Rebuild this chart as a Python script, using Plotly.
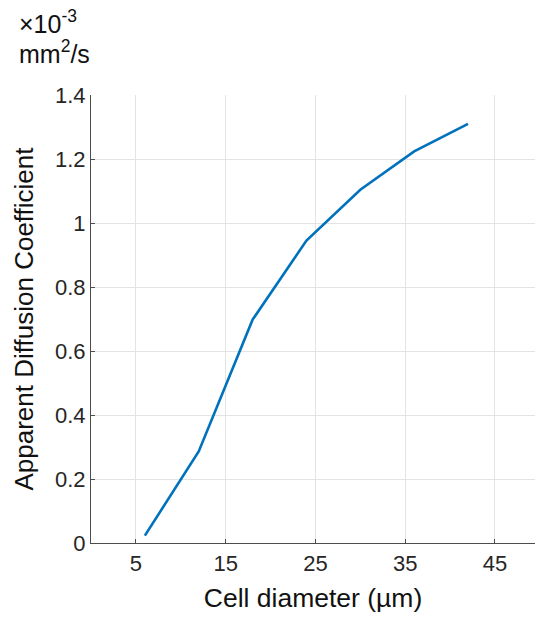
import plotly.graph_objects as go

cell_diameter = [6, 12, 18, 24, 30, 36, 42]
adc_values = [0.023, 0.286, 0.698, 0.945, 1.104, 1.224, 1.310]
x_ticks = [5, 15, 25, 35, 45]
y_ticks = [0, 0.2, 0.4, 0.6, 0.8, 1.0, 1.2, 1.4]
y_tick_text = ["0", "0.2", "0.4", "0.6", "0.8", "1", "1.2", "1.4"]

FONT = "Liberation Sans, Arial, Helvetica, sans-serif"

fig = go.Figure()
fig.add_trace(go.Scatter(
    x=cell_diameter, y=adc_values, mode="lines",
    line=dict(color="#0072BD", width=2.6),
    hoverinfo="skip", showlegend=False,
))

W, H = 535, 618
ml = 90.7
mt = 95.3
mb = H - 543.3
pw = W - ml
ph = H - mt - mb


def py(page_y):
    return (543.3 - page_y) / ph


def px(page_x):
    return (page_x - ml) / pw


fig.update_layout(
    width=W, height=H,
    margin=dict(l=ml, r=0, t=mt, b=mb, pad=0),
    paper_bgcolor="white", plot_bgcolor="white",
    font=dict(family=FONT, color="#262626"),
    showlegend=False,
)
fig.update_xaxes(
    range=[0, 49.46], tickvals=x_ticks, ticktext=[str(v) for v in x_ticks],
    showgrid=True, gridcolor="#e3e3e3", gridwidth=1,
    showline=True, linecolor="#4d4d4d", linewidth=1.2,
    ticks="inside", ticklen=4, tickcolor="#4d4d4d",
    tickfont=dict(size=22, color="#262626", family=FONT),
    title=dict(text="Cell diameter (µm)", font=dict(size=26.5, color="#111111", family=FONT), standoff=13),
    zeroline=False,
)
fig.update_yaxes(
    range=[0, 1.4], tickvals=y_ticks, ticktext=y_tick_text,
    showgrid=True, gridcolor="#e3e3e3", gridwidth=1,
    showline=True, linecolor="#4d4d4d", linewidth=1.2,
    ticks="inside", ticklen=4, tickcolor="#4d4d4d",
    tickfont=dict(size=22, color="#262626", family=FONT),
    title=dict(text="Apparent Diffusion Coefficient", font=dict(size=26, color="#111111", family=FONT), standoff=13),
    zeroline=False,
)

fig.add_annotation(
    text="×10<sup>-3</sup>", xref="paper", yref="paper",
    x=px(17), y=py(22),
    xanchor="left", yanchor="middle", showarrow=False,
    font=dict(size=25, color="#111111", family=FONT),
)
fig.add_annotation(
    text="mm<sup>2</sup>/s", xref="paper", yref="paper",
    x=px(17), y=py(52),
    xanchor="left", yanchor="middle", showarrow=False,
    font=dict(size=25, color="#111111", family=FONT),
)

fig.write_html(
    "out.html",
    config={"displayModeBar": False},
    post_script="document.body.style.margin='0';document.body.style.overflow='hidden';",
)
